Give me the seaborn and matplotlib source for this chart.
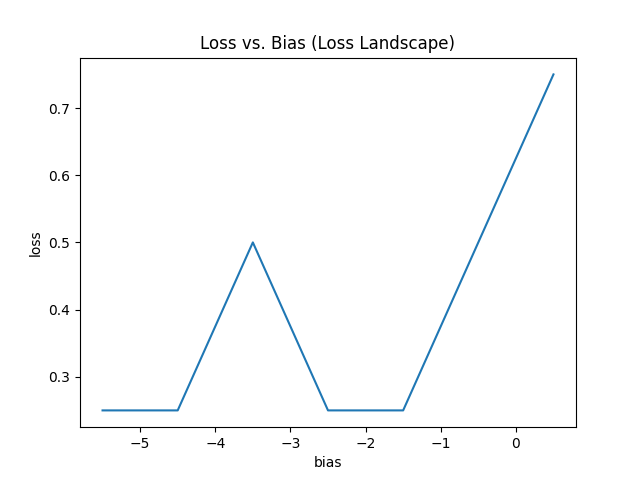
import matplotlib
matplotlib.use("Agg")
import matplotlib.pyplot as plt
import seaborn as sns

bias = [-5.5, -4.5, -3.5, -2.5, -1.5, -0.5, 0.5]
loss = [0.25, 0.25, 0.5, 0.25, 0.25, 0.5, 0.75]

fig, ax = plt.subplots(figsize=(6.4, 4.8), dpi=100)
sns.lineplot(x=bias, y=loss, ax=ax)
ax.set_title("Loss vs. Bias (Loss Landscape)")
ax.set_xlabel("bias")
ax.set_ylabel("loss")
fig.savefig("out.png")
